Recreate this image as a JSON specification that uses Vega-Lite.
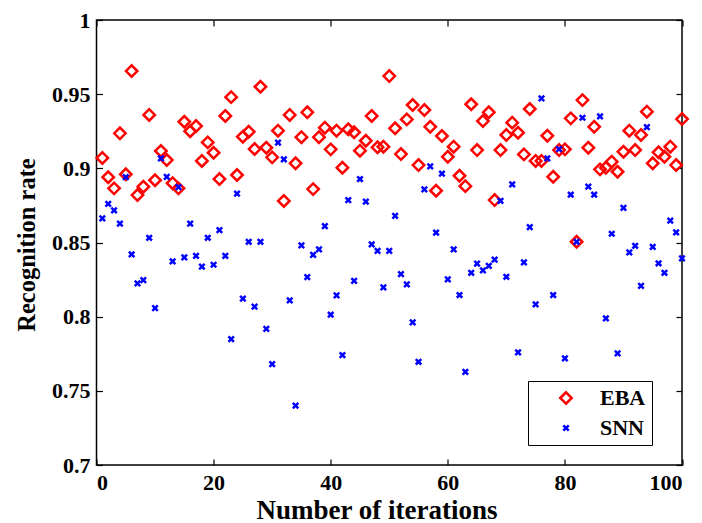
{
"$schema": "https://vega.github.io/schema/vega-lite/v6.json",
"width": 585.5,
"height": 445,
"autosize": {"type": "none"},
"padding": {"left": 96.5, "top": 20, "right": 20, "bottom": 58},
"background": "white",
"config": {
  "view": {"stroke": "black", "strokeWidth": 1.5},
  "font": "Liberation Serif",
  "style": {"guide-label": {"font": "Liberation Serif", "fontWeight": "bold", "fontSize": 22, "fill": "black"}, "guide-title": {"font": "Liberation Serif", "fontWeight": "bold", "fill": "black"}},
  "axis": {"grid": false, "domain": false, "tickColor": "black", "tickWidth": 1.2, "labelColor": "black", "titleColor": "black", "labelFont": "Liberation Serif", "titleFont": "Liberation Serif", "labelFontWeight": "bold", "titleFontWeight": "bold", "labelFontSize": 22},
  "legend": {"labelFont": "Liberation Serif", "labelFontWeight": "bold"}
},
"datasets": {
  "pts": [
{"i":1,"series":"EBA","rate":0.907},{"i":2,"series":"EBA","rate":0.894},{"i":3,"series":"EBA","rate":0.8865},{"i":4,"series":"EBA","rate":0.9236},{"i":5,"series":"EBA","rate":0.896},
{"i":6,"series":"EBA","rate":0.9656},{"i":7,"series":"EBA","rate":0.882},{"i":8,"series":"EBA","rate":0.8876},{"i":9,"series":"EBA","rate":0.936},{"i":10,"series":"EBA","rate":0.892},
{"i":11,"series":"EBA","rate":0.9117},{"i":12,"series":"EBA","rate":0.9056},{"i":13,"series":"EBA","rate":0.89},{"i":14,"series":"EBA","rate":0.8865},{"i":15,"series":"EBA","rate":0.9314},
{"i":16,"series":"EBA","rate":0.925},{"i":17,"series":"EBA","rate":0.9285},{"i":18,"series":"EBA","rate":0.905},{"i":19,"series":"EBA","rate":0.9175},{"i":20,"series":"EBA","rate":0.9105},
{"i":21,"series":"EBA","rate":0.8928},{"i":22,"series":"EBA","rate":0.9353},{"i":23,"series":"EBA","rate":0.948},{"i":24,"series":"EBA","rate":0.8955},{"i":25,"series":"EBA","rate":0.9213},
{"i":26,"series":"EBA","rate":0.9247},{"i":27,"series":"EBA","rate":0.913},{"i":28,"series":"EBA","rate":0.955},{"i":29,"series":"EBA","rate":0.9139},{"i":30,"series":"EBA","rate":0.9074},
{"i":31,"series":"EBA","rate":0.9254},{"i":32,"series":"EBA","rate":0.878},{"i":33,"series":"EBA","rate":0.936},{"i":34,"series":"EBA","rate":0.9034},{"i":35,"series":"EBA","rate":0.921},
{"i":36,"series":"EBA","rate":0.9378},{"i":37,"series":"EBA","rate":0.886},{"i":38,"series":"EBA","rate":0.921},{"i":39,"series":"EBA","rate":0.9274},{"i":40,"series":"EBA","rate":0.9128},
{"i":41,"series":"EBA","rate":0.9254},{"i":42,"series":"EBA","rate":0.9004},{"i":43,"series":"EBA","rate":0.9263},{"i":44,"series":"EBA","rate":0.9243},{"i":45,"series":"EBA","rate":0.9119},
{"i":46,"series":"EBA","rate":0.9186},{"i":47,"series":"EBA","rate":0.9353},{"i":48,"series":"EBA","rate":0.9142},{"i":49,"series":"EBA","rate":0.9146},{"i":50,"series":"EBA","rate":0.9622},
{"i":51,"series":"EBA","rate":0.927},{"i":52,"series":"EBA","rate":0.9096},{"i":53,"series":"EBA","rate":0.933},{"i":54,"series":"EBA","rate":0.9427},{"i":55,"series":"EBA","rate":0.9022},
{"i":56,"series":"EBA","rate":0.9393},{"i":57,"series":"EBA","rate":0.928},{"i":58,"series":"EBA","rate":0.8849},{"i":59,"series":"EBA","rate":0.9218},{"i":60,"series":"EBA","rate":0.9078},
{"i":61,"series":"EBA","rate":0.9146},{"i":62,"series":"EBA","rate":0.895},{"i":63,"series":"EBA","rate":0.888},{"i":64,"series":"EBA","rate":0.9432},{"i":65,"series":"EBA","rate":0.9123},
{"i":66,"series":"EBA","rate":0.9319},{"i":67,"series":"EBA","rate":0.9378},{"i":68,"series":"EBA","rate":0.8786},{"i":69,"series":"EBA","rate":0.9123},{"i":70,"series":"EBA","rate":0.9225},
{"i":71,"series":"EBA","rate":0.9308},{"i":72,"series":"EBA","rate":0.924},{"i":73,"series":"EBA","rate":0.9094},{"i":74,"series":"EBA","rate":0.94},{"i":75,"series":"EBA","rate":0.905},
{"i":76,"series":"EBA","rate":0.905},{"i":77,"series":"EBA","rate":0.922},{"i":78,"series":"EBA","rate":0.8943},{"i":79,"series":"EBA","rate":0.9123},{"i":80,"series":"EBA","rate":0.9128},
{"i":81,"series":"EBA","rate":0.9337},{"i":82,"series":"EBA","rate":0.8505},{"i":83,"series":"EBA","rate":0.946},{"i":84,"series":"EBA","rate":0.9139},{"i":85,"series":"EBA","rate":0.928},
{"i":86,"series":"EBA","rate":0.8993},{"i":87,"series":"EBA","rate":0.9004},{"i":88,"series":"EBA","rate":0.9045},{"i":89,"series":"EBA","rate":0.8977},{"i":90,"series":"EBA","rate":0.9112},
{"i":91,"series":"EBA","rate":0.9254},{"i":92,"series":"EBA","rate":0.9123},{"i":93,"series":"EBA","rate":0.9225},{"i":94,"series":"EBA","rate":0.9382},{"i":95,"series":"EBA","rate":0.9034},
{"i":96,"series":"EBA","rate":0.9108},{"i":97,"series":"EBA","rate":0.9078},{"i":98,"series":"EBA","rate":0.9146},{"i":99,"series":"EBA","rate":0.9022},{"i":100,"series":"EBA","rate":0.9332},
{"i":1,"series":"SNN","rate":0.8663},{"i":2,"series":"SNN","rate":0.8761},{"i":3,"series":"SNN","rate":0.8717},{"i":4,"series":"SNN","rate":0.8627},{"i":5,"series":"SNN","rate":0.8941},
{"i":6,"series":"SNN","rate":0.842},{"i":7,"series":"SNN","rate":0.8225},{"i":8,"series":"SNN","rate":0.8247},{"i":9,"series":"SNN","rate":0.8532},{"i":10,"series":"SNN","rate":0.8058},
{"i":11,"series":"SNN","rate":0.9067},{"i":12,"series":"SNN","rate":0.8943},{"i":13,"series":"SNN","rate":0.8373},{"i":14,"series":"SNN","rate":0.8874},{"i":15,"series":"SNN","rate":0.84},
{"i":16,"series":"SNN","rate":0.8627},{"i":17,"series":"SNN","rate":0.841},{"i":18,"series":"SNN","rate":0.8337},{"i":19,"series":"SNN","rate":0.8532},{"i":20,"series":"SNN","rate":0.835},
{"i":21,"series":"SNN","rate":0.8584},{"i":22,"series":"SNN","rate":0.841},{"i":23,"series":"SNN","rate":0.7849},{"i":24,"series":"SNN","rate":0.8829},{"i":25,"series":"SNN","rate":0.8121},
{"i":26,"series":"SNN","rate":0.8505},{"i":27,"series":"SNN","rate":0.8067},{"i":28,"series":"SNN","rate":0.8505},{"i":29,"series":"SNN","rate":0.7918},{"i":30,"series":"SNN","rate":0.768},
{"i":31,"series":"SNN","rate":0.9173},{"i":32,"series":"SNN","rate":0.906},{"i":33,"series":"SNN","rate":0.811},{"i":34,"series":"SNN","rate":0.74},{"i":35,"series":"SNN","rate":0.848},
{"i":36,"series":"SNN","rate":0.8267},{"i":37,"series":"SNN","rate":0.8417},{"i":38,"series":"SNN","rate":0.8454},{"i":39,"series":"SNN","rate":0.861},{"i":40,"series":"SNN","rate":0.8013},
{"i":41,"series":"SNN","rate":0.8143},{"i":42,"series":"SNN","rate":0.7741},{"i":43,"series":"SNN","rate":0.8786},{"i":44,"series":"SNN","rate":0.8242},{"i":45,"series":"SNN","rate":0.8928},
{"i":46,"series":"SNN","rate":0.8775},{"i":47,"series":"SNN","rate":0.8487},{"i":48,"series":"SNN","rate":0.8444},{"i":49,"series":"SNN","rate":0.8198},{"i":50,"series":"SNN","rate":0.8444},
{"i":51,"series":"SNN","rate":0.868},{"i":52,"series":"SNN","rate":0.8287},{"i":53,"series":"SNN","rate":0.8218},{"i":54,"series":"SNN","rate":0.7961},{"i":55,"series":"SNN","rate":0.7696},
{"i":56,"series":"SNN","rate":0.8858},{"i":57,"series":"SNN","rate":0.9013},{"i":58,"series":"SNN","rate":0.8566},{"i":59,"series":"SNN","rate":0.8964},{"i":60,"series":"SNN","rate":0.8251},
{"i":61,"series":"SNN","rate":0.8454},{"i":62,"series":"SNN","rate":0.8146},{"i":63,"series":"SNN","rate":0.7628},{"i":64,"series":"SNN","rate":0.8296},{"i":65,"series":"SNN","rate":0.8357},
{"i":66,"series":"SNN","rate":0.8312},{"i":67,"series":"SNN","rate":0.8343},{"i":68,"series":"SNN","rate":0.8384},{"i":69,"series":"SNN","rate":0.878},{"i":70,"series":"SNN","rate":0.8269},
{"i":71,"series":"SNN","rate":0.8892},{"i":72,"series":"SNN","rate":0.7759},{"i":73,"series":"SNN","rate":0.8366},{"i":74,"series":"SNN","rate":0.8604},{"i":75,"series":"SNN","rate":0.8083},
{"i":76,"series":"SNN","rate":0.9472},{"i":77,"series":"SNN","rate":0.9067},{"i":78,"series":"SNN","rate":0.8146},{"i":79,"series":"SNN","rate":0.913},{"i":80,"series":"SNN","rate":0.7719},
{"i":81,"series":"SNN","rate":0.8822},{"i":82,"series":"SNN","rate":0.8505},{"i":83,"series":"SNN","rate":0.9341},{"i":84,"series":"SNN","rate":0.8876},{"i":85,"series":"SNN","rate":0.8822},
{"i":86,"series":"SNN","rate":0.935},{"i":87,"series":"SNN","rate":0.7988},{"i":88,"series":"SNN","rate":0.8559},{"i":89,"series":"SNN","rate":0.7752},{"i":90,"series":"SNN","rate":0.8734},
{"i":91,"series":"SNN","rate":0.8433},{"i":92,"series":"SNN","rate":0.8478},{"i":93,"series":"SNN","rate":0.8208},{"i":94,"series":"SNN","rate":0.9278},{"i":95,"series":"SNN","rate":0.847},
{"i":96,"series":"SNN","rate":0.836},{"i":97,"series":"SNN","rate":0.8296},{"i":98,"series":"SNN","rate":0.8647},{"i":99,"series":"SNN","rate":0.8568},{"i":100,"series":"SNN","rate":0.8393}
  ]
},
"data": {"name": "pts"},
"layer": [
  {
    "mark": {"type": "point", "filled": false, "strokeWidth": 2.5, "opacity": 1},
    "encoding": {
      "x": {"field": "i", "type": "quantitative", "scale": {"domain": [0, 100], "nice": false, "zero": false},
        "axis": {"orient": "bottom", "values": [0, 20, 40, 60, 80, 100], "tickSize": -6, "labelPadding": 13, "labelFont": "Liberation Serif", "labelFontWeight": "bold", "labelFontSize": 22, "title": "Number of iterations", "titleFont": "Liberation Serif", "titleFontSize": 27, "titleX": 280, "titleY": 53, "titleBaseline": "alphabetic", "titleAlign": "center"}},
      "y": {"field": "rate", "type": "quantitative", "scale": {"domain": [0.7, 1], "nice": false, "zero": false},
        "axis": {"orient": "left", "values": [0.7, 0.75, 0.8, 0.85, 0.9, 0.95, 1], "format": ".2~f", "tickSize": -6, "labelPadding": 12.5, "labelFont": "Liberation Serif", "labelFontWeight": "bold", "labelFontSize": 22, "title": "Recognition rate", "titleFont": "Liberation Serif", "titleFontSize": 24.5, "titleAngle": -90, "titleX": -62.5, "titleY": 224.5, "titleBaseline": "alphabetic", "titleAlign": "center"}},
      "color": {"field": "series", "type": "nominal", "scale": {"domain": ["EBA", "SNN"], "range": ["#ff0000", "#0000ff"]},
        "legend": {"orient": "none", "legendX": 431.5, "legendY": 361, "title": null, "labelFont": "Liberation Serif", "labelFontWeight": "bold", "labelFontSize": 22, "labelColor": "black", "strokeColor": "black", "fillColor": "white", "padding": 6, "symbolOffset": 21, "labelOffset": 23, "rowPadding": 8, "symbolStrokeWidth": 2.5}},
      "shape": {"field": "series", "type": "nominal", "scale": {"domain": ["EBA", "SNN"], "range": ["diamond", "M-1,-1L1,1M1,-1L-1,1"]}},
      "size": {"field": "series", "type": "nominal", "scale": {"domain": ["EBA", "SNN"], "range": [130, 30]}}
    }
  },
  {
    "mark": {"type": "point", "opacity": 0},
    "encoding": {
      "x": {"field": "i", "type": "quantitative", "scale": {"domain": [0, 100], "nice": false, "zero": false},
        "axis": {"orient": "top", "values": [0, 20, 40, 60, 80, 100], "tickSize": -6, "labels": false, "title": null}},
      "y": {"field": "rate", "type": "quantitative", "scale": {"domain": [0.7, 1], "nice": false, "zero": false},
        "axis": {"orient": "right", "values": [0.7, 0.75, 0.8, 0.85, 0.9, 0.95, 1], "tickSize": -6, "labels": false, "title": null}}
    }
  }
],
"resolve": {"axis": {"x": "independent", "y": "independent"}}
}
